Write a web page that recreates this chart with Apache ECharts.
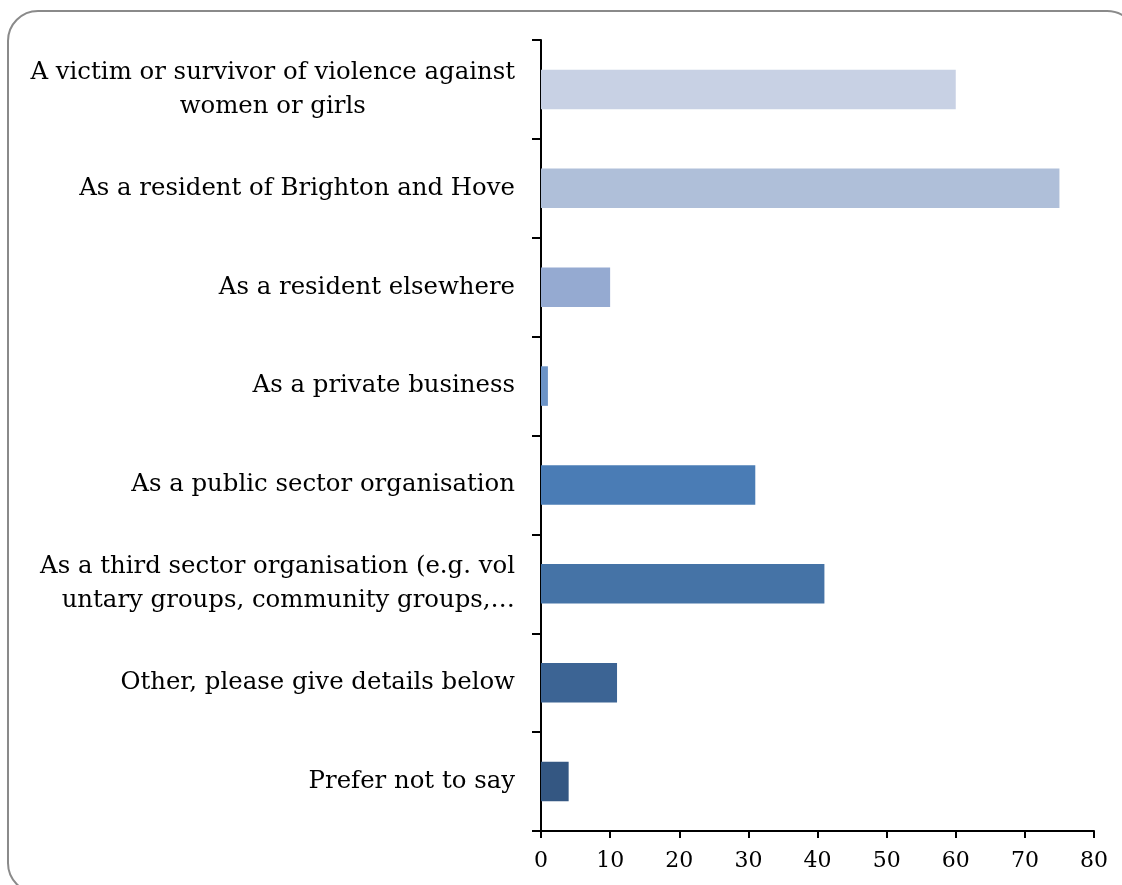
<!DOCTYPE html>
<html>
<head>
<meta charset="utf-8">
<script src="https://cdn.jsdelivr.net/npm/echarts@6/dist/echarts.min.js"></script>
<style>
html,body{margin:0;padding:0;background:#fff;}
#chart{width:1122px;height:885px;}
</style>
</head>
<body>
<div id="chart"></div>
<script>
const categories = [
  "A victim or survivor of violence against\nwomen or girls",
  "As a resident of Brighton and Hove",
  "As a resident elsewhere",
  "As a private business",
  "As a public sector organisation",
  "As a third sector organisation (e.g. vol\nuntary groups, community groups,…",
  "Other, please give details below",
  "Prefer not to say"
];
const values = [60, 75, 10, 1, 31, 41, 11, 4];
const xTicks = [0, 10, 20, 30, 40, 50, 60, 70, 80];
const palette = ["#C8D1E4", "#AFBFD9", "#95AAD1", "#6C93C6", "#4A7CB5", "#4573A6", "#3C6494", "#345782"];

const FONT = "DejaVu Serif";
const FS = 24.4;
const chart = echarts.init(document.getElementById('chart'));
chart.setOption({
  animation: false,
  backgroundColor: '#fff',
  graphic: [{
    type: 'rect',
    shape: {x: 8, y: 11, width: 1129, height: 882, r: 30},
    style: {fill: 'none', stroke: '#8a8a8a', lineWidth: 2}
  }],
  grid: {left: 541, right: 28, top: 40, bottom: 54, containLabel: false},
  xAxis: {
    type: 'value',
    min: xTicks[0],
    max: xTicks[xTicks.length - 1],
    interval: xTicks[1] - xTicks[0],
    splitLine: {show: false},
    axisLine: {show: true, lineStyle: {color: '#000', width: 2}},
    axisTick: {show: true, length: 7, lineStyle: {color: '#000', width: 2}},
    axisLabel: {color: '#000', fontFamily: FONT, fontSize: 22, margin: 19}
  },
  yAxis: {
    type: 'category',
    inverse: true,
    data: categories,
    axisLine: {show: true, lineStyle: {color: '#000', width: 2}},
    axisTick: {show: true, length: 9, lineStyle: {color: '#000', width: 2}},
    axisLabel: {
      color: '#000', fontFamily: FONT, fontSize: FS, margin: 26, lineHeight: 34,
      formatter: function (v, i) {
        if (v.indexOf('\n') < 0) return v;
        const key = i === 0 ? 'c' : 'r';
        return v.split('\n').map(l => '{' + key + '|' + l + '}').join('\n');
      },
      rich: {
        c: {fontFamily: FONT, fontSize: FS, color: '#000', align: 'center', lineHeight: 34},
        r: {fontFamily: FONT, fontSize: FS, color: '#000', align: 'right', lineHeight: 34}
      }
    }
  },
  series: [{
    type: 'bar',
    barCategoryGap: '60%',
    data: values.map((v, i) => ({value: v, itemStyle: {color: palette[i]}}))
  }]
});
</script>
</body>
</html>
